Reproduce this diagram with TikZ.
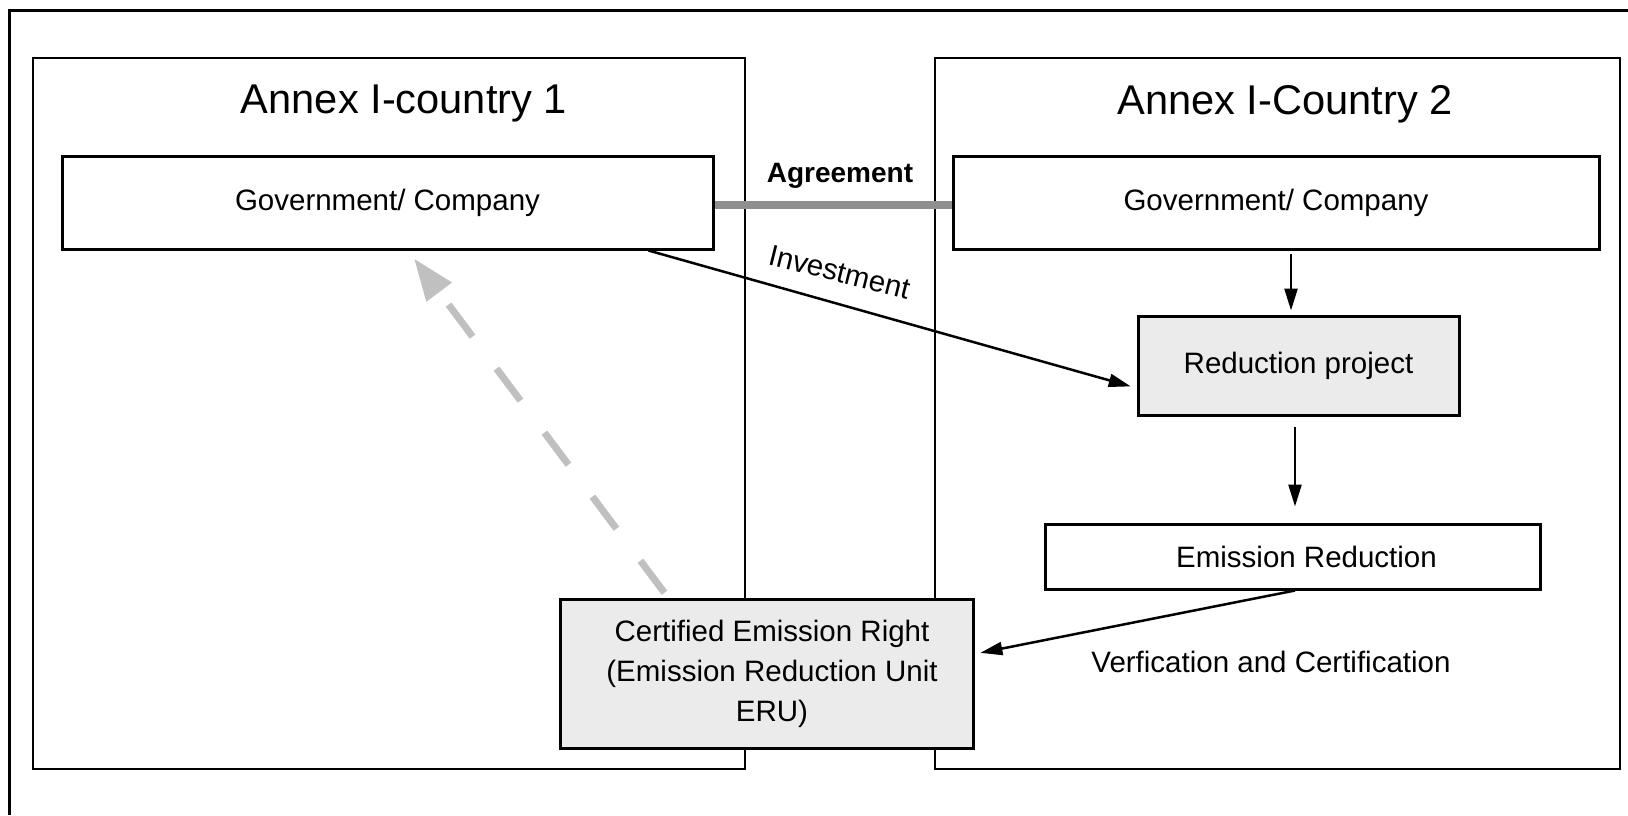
\documentclass[tikz,border=0pt]{standalone}
\usepackage{fontspec}
\setmainfont{Liberation Sans}
\usetikzlibrary{arrows.meta}
\definecolor{boxfill}{HTML}{EBEBEB}
\definecolor{linkgray}{HTML}{8F8F8F}
\definecolor{returngray}{HTML}{C0C0C0}
\newcommand{\txtfont}{\fontsize{29.5}{40}\selectfont}
\newcommand{\headfont}{\fontsize{41.6}{48}\selectfont}
\begin{document}
\begin{tikzpicture}[x=1pt,y=-1pt,
  frame/.style={draw=black,line width=3pt},
  region/.style={draw=black,line width=2.6pt,rectangle,inner sep=0pt},
  stepbox/.style={draw=black,line width=3pt,rectangle,inner sep=0pt,font=\txtfont,align=center},
  caption/.style={font=\txtfont,inner sep=0pt,align=center},
  heading/.style={font=\headfont,inner sep=0pt},
  flow/.style={draw=black,line width=2.5pt,-{Triangle[length=22pt,width=13pt]}},
  linkbar/.style={draw=linkgray,line width=8pt},
  returnarrow/.style={draw=returngray,line width=7pt,dash pattern=on 40pt off 40pt,
    -{Triangle[length=42pt,width=30pt,fill=returngray]}}
]
\useasboundingbox (0,0) rectangle (1628,815);

% outer frame (top and left edges)
\draw[frame] (9,815) -- (9,10) -- (1628,10);

% the two countries
\node[region,minimum width=712pt,minimum height=711pt] (c1) at (389,413.5) {};
\node[region,minimum width=685pt,minimum height=711pt] (c2) at (1277.5,413.5) {};
\node[heading] (t1) at (404,104) {Annex I-country 1};
\node[heading] (t2) at (1285,104) {Annex I-Country 2};

% actors and steps
\node[stepbox,minimum width=651pt,minimum height=93pt] (g1) at (387.5,202.5) {Government/ Company};
\node[stepbox,minimum width=646pt,minimum height=93pt] (g2) at (1276,202.5) {Government/ Company};
\node[stepbox,fill=boxfill,minimum width=321pt,minimum height=99pt] (rp) at (1298.5,365.5) {Reduction project};
\node[stepbox,minimum width=495pt,minimum height=65pt] (er) at (1292.5,556.5) {\hspace*{28pt}Emission Reduction};
\node[stepbox,fill=boxfill,minimum width=413pt,minimum height=149pt] (cer) at (766.5,673.5) {};
\node[caption] (certxt) at (772,674) {Certified Emission Right\\(Emission Reduction Unit\\ERU)};

% labels
\node[font=\fontsize{28}{32}\selectfont\bfseries,inner sep=0pt] (agr) at (840,176) {Agreement};
\node[caption,rotate=-14] (inv) at (840,272) {Investment};
\node[caption] (vc) at (1271,662) {Verfication and Certification};

% connectors
\draw[linkbar] ([yshift=-2.5pt]g1.east) -- ([yshift=-2.5pt]g2.west);
\draw[flow,shorten >=6pt] ([xshift=261pt]g1.south) -- ([yshift=-22.5pt]rp.west);
\draw[flow,shorten <=3pt,shorten >=4pt] ([xshift=15pt]g2.south) -- ([xshift=15pt]g2.south |- rp.north);
\draw[flow,shorten <=10pt,shorten >=16pt] ([xshift=-3.5pt]rp.south) -- ([xshift=-3.5pt]rp.south |- er.north);
\draw[flow,shorten >=6pt] ([xshift=2.5pt]er.south) -- ([yshift=19.5pt]cer.east);
\draw[returnarrow,shorten <=6pt,shorten >=10pt] ([xshift=-98.5pt]cer.north) -- ([xshift=20.5pt]g1.south);
\end{tikzpicture}
\end{document}
